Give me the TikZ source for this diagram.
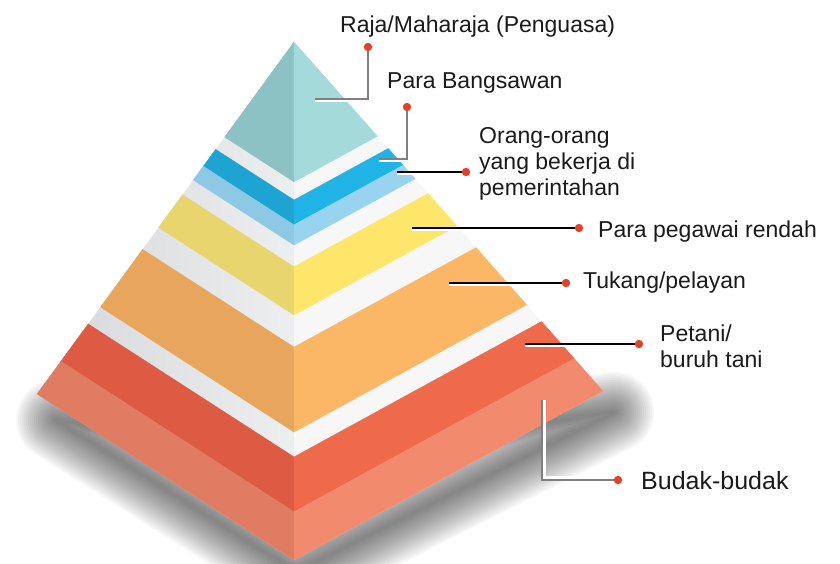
\documentclass[tikz,border=0pt]{standalone}
\usepackage{fontspec}
\setmainfont{Liberation Sans}
\usetikzlibrary{calc}
\definecolor{tealL}{HTML}{8CC2C3}\definecolor{tealR}{HTML}{A4DADA}
\definecolor{dblueL}{HTML}{1EA4D2}\definecolor{dblueR}{HTML}{20B4E6}
\definecolor{lblueL}{HTML}{8DC8E4}\definecolor{lblueR}{HTML}{98D4EF}
\definecolor{yelL}{HTML}{E9D56E}\definecolor{yelR}{HTML}{FDE66A}
\definecolor{oraL}{HTML}{E8A65D}\definecolor{oraR}{HTML}{FBB766}
\definecolor{redL}{HTML}{DC5B42}\definecolor{redR}{HTML}{EF694B}
\definecolor{salL}{HTML}{E07C62}\definecolor{salR}{HTML}{F28B6E}
\definecolor{gapL}{HTML}{D5D7DA}\definecolor{gapLL}{HTML}{EDEEEF}\definecolor{gapR}{HTML}{F7F7F7}
\definecolor{dotred}{HTML}{E4412A}
\definecolor{txt}{HTML}{1A1A1A}
\newcommand\pyrband[4]{%
  \filldraw[#3,line width=0.3pt] ($(A)!#1!(L)$) -- ($(A)!#2!(L)$) -- ($(A)!#2!(F)$) -- ($(A)!#1!(F)$) -- cycle;
  \filldraw[#4,line width=0.3pt] ($(A)!#1!(F)$) -- ($(A)!#2!(F)$) -- ($(A)!#2!(R)$) -- ($(A)!#1!(R)$) -- cycle;}
\begin{document}
\begin{tikzpicture}[x=1pt,y=-1pt,
  dot/.style={circle,fill=dotred,inner sep=0pt,minimum size=8.4pt},
  lbl/.style={anchor=base west,inner sep=0pt,text=txt,font=\fontsize{23}{26}\selectfont,align=left},
  darkln/.style={draw=black,line width=1.1pt},
  greyln/.style={draw=black!50,line width=1.1pt},
  whiteln/.style={draw=white,line width=2.2pt}]
\useasboundingbox (0,0) rectangle (840,564);
\coordinate (A) at (294,42);
\coordinate (L) at (37,394);
\coordinate (F) at (294,560);
\coordinate (R) at (603,391);
% shadow (soft, built from stacked translucent strokes)
\foreach \w in {4,8,...,80}
  \draw[black,opacity=0.033,line width=\w pt,line join=round]
    (56,420) -- (296,572) -- (614,412) -- (300,460) -- cycle;
% faces (gaps)
\shade[left color=gapL,right color=gapLL] (A) -- (L) -- (F) -- cycle;
\fill[gapR] (A) -- (F) -- (R) -- cycle;
% bands
\pyrband{0}{0.270}{tealL}{tealR}
\pyrband{0.305}{0.353}{dblueL}{dblueR}
\pyrband{0.353}{0.392}{lblueL}{lblueR}
\pyrband{0.434}{0.527}{yelL}{yelR}
\pyrband{0.589}{0.753}{oraL}{oraR}
\pyrband{0.801}{0.907}{redL}{redR}
\pyrband{0.907}{1}{salL}{salR}
% labels
\node[lbl] (t1) at (340,33) {Raja/Maharaja (Penguasa)};
\node[lbl] (t2) at (387,89) {Para Bangsawan};
\node[lbl,anchor=north west] (t3) at (479,127) {Orang-orang\\yang bekerja di\\pemerintahan};
\node[lbl] (t4) at (598,237) {Para pegawai rendah};
\node[lbl] (t5) at (583,288) {Tukang/pelayan};
\node[lbl,anchor=north west] (t6) at (660,325) {Petani/\\buruh tani};
\node[lbl,font=\fontsize{25}{28}\selectfont] (t7) at (641,489) {Budak-budak};
% connectors
\node[dot] (d1) at (368,47) {};
\coordinate (e1) at (315,99);
\draw[whiteln] ($(e1)+(0,2)$) -- ($(d1|-e1)+(-1,2)$);
\draw[greyln] (d1) |- (e1);
\node[dot] (d2) at (407,107) {};
\coordinate (e2) at (379,159);
\draw[whiteln] ($(e2)+(0,2)$) -- ($(d2|-e2)+(-1,2)$);
\draw[greyln] (d2) |- (e2);
\node[dot] (d3) at (466,172) {};
\coordinate (e3) at (397,172);
\draw[whiteln] ($(e3)+(0,2)$) -- ($(d3)+(-30,2)$);
\draw[darkln] (d3) -- (e3);
\node[dot] (d4) at (579,228) {};
\coordinate (e4) at (412,228);
\draw[whiteln] ($(e4)+(0,2)$) -- ($(d4)+(-60,2)$);
\draw[darkln] (d4) -- (e4);
\node[dot] (d5) at (566,283) {};
\coordinate (e5) at (449,283);
\draw[whiteln] ($(e5)+(0,2)$) -- ($(d5)+(-50,2)$);
\draw[darkln] (d5) -- (e5);
\node[dot] (d6) at (639,344) {};
\coordinate (e6) at (525,344);
\draw[whiteln] ($(e6)+(0,2)$) -- ($(d6)+(-70,2)$);
\draw[darkln] (d6) -- (e6);
\node[dot] (d7) at (618,480) {};
\coordinate (e7) at (542,400);
\draw[whiteln] ($(e7)+(2.5,0)$) -- ($(e7|-d7)+(2.5,-2.5)$) -- ($(d7)+(-8,-2.5)$);
\draw[greyln] (e7) |- (d7);
\end{tikzpicture}
\end{document}
